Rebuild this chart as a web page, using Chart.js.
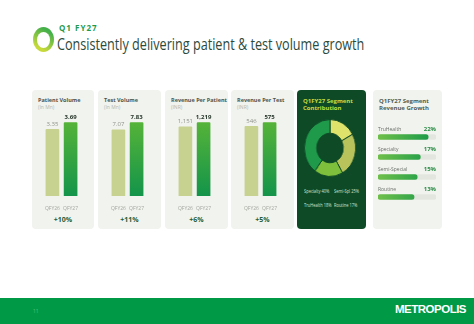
<!DOCTYPE html>
<html lang="en">
<head>
<meta charset="UTF-8">
<title>Q1 FY27 - Volume Growth</title>
<script src="https://cdn.jsdelivr.net/npm/chart.js"></script>
<style>
  body { margin: 0; width: 474px; height: 324px; background: #fff; position: relative; overflow: hidden; font-family: "Open Sans", sans-serif; }
  .abs { position: absolute; }
  .card { position: absolute; top: 90px; height: 139px; background: #f1f3ee; border-radius: 4px; }
  .card canvas { position: absolute; }
  .kpi-title { position: absolute; left: 6px; top: 7px; font-size: 5.5px; font-weight: bold; color: #4d554d; line-height: 6px; white-space: nowrap; }
  .kpi-unit { position: absolute; left: 6px; top: 14px; font-size: 5px; color: #b3b8ae; line-height: 6px; }
  .kpi-growth { position: absolute; left: 0; right: 0; top: 126px; text-align: center; font-size: 7px; font-weight: bold; color: #1f5e35; line-height: 8px; }
  .head2 { position: absolute; left: 6px; top: 8px; font-size: 6px; font-weight: bold; line-height: 6.5px; }
  .legend { position: absolute; font-size: 5px; color: #d3e3cc; white-space: nowrap; line-height: 6px; transform: scaleX(0.8); transform-origin: left top; }
</style>
</head>
<body>
  <!-- header -->
  <div class="abs" style="left:33px;top:27px;width:21px;height:25px;border-radius:50%;background:linear-gradient(210deg,#43b04a 20%,#c8da3a 80%);">
    <div class="abs" style="left:4px;top:4.5px;width:13px;height:16px;border-radius:50%;background:#fff;"></div>
  </div>
  <div class="abs" style="left:59px;top:24px;font-size:8px;font-weight:bold;letter-spacing:1px;color:#1f9a4b;line-height:8px;">Q1 FY27</div>
  <div id="title" class="abs" style="left:57px;top:37px;font-size:15.5px;color:#2c4a3b;line-height:14px;white-space:nowrap;transform-origin:left top;">Consistently delivering patient &amp; test volume growth</div>

  <!-- KPI cards -->
  <div class="card" style="left:32px;width:62px;"></div>
  <div class="card" style="left:98px;width:63px;"></div>
  <div class="card" style="left:165px;width:63px;"></div>
  <div class="card" style="left:231px;width:63px;"></div>

  <!-- segment contribution -->
  <div class="card" id="segCard" style="left:297px;width:69px;background:#0f4a27;">
    <div class="head2" style="color:#c6dc3e;">Q1FY27 Segment<br>Contribution</div>
    <div class="abs" style="left:4px;top:29px;width:58px;height:58px;transform:scaleX(0.9);transform-origin:29px 0;">
      <canvas id="donut" width="58" height="58"></canvas>
    </div>
  </div>

  <!-- segment growth -->
  <div class="card" id="growthCard" style="left:373px;width:69px;">
    <div class="head2" style="color:#515c52;">Q1FY27 Segment<br>Revenue Growth</div>
  </div>

  <!-- footer -->
  <div class="abs" style="left:0;top:298px;width:474px;height:26px;background:#009a47;"></div>
  <div class="abs" style="left:33px;top:308px;font-size:5px;color:#55c27a;">11</div>
  <div class="abs" style="left:395px;top:303px;font-size:11.5px;font-weight:bold;color:#fff;letter-spacing:-0.5px;font-family:'Liberation Sans',sans-serif;">METROPOLIS</div>

<script>
// ---- data ----
const periods = ['QFY26', 'QFY27'];
const kpiTitles = ['Patient Volume', 'Test Volume', 'Revenue Per Patient', 'Revenue Per Test'];
const kpiUnits = ['(In Mn)', '(In Mn)', '(INR)', '(INR)'];
const patientVolume = [3.35, 3.69];
const testVolume = [7.07, 7.83];
const revenuePerPatient = [1151, 1219];
const revenuePerTest = [546, 575];
const kpiGrowth = ['+10%', '+11%', '+6%', '+5%'];

const segLabels = ['Routine', 'Semi-Spl', 'TruHealth', 'Specialty'];
const segShare = [17, 25, 18, 40];
const segLegendOrder = ['Specialty', 'Semi-Spl', 'TruHealth', 'Routine'];

const growthLabels = ['TruHealth', 'Specialty', 'Semi-Special', 'Routine'];
const growthValues = [22, 17, 15, 13];

// ---- helpers ----
const fmt = v => (v % 1 ? v.toFixed(2) : v.toLocaleString('en-US'));

function vGradient(chart) {
    const a = chart.chartArea;
    if (!a) return '#3aa845';
    const g = chart.ctx.createLinearGradient(0, a.top, 0, a.bottom);
    g.addColorStop(0, '#62b935');
    g.addColorStop(1, '#13944a');
    return g;
}

function hGradient(chart) {
    const a = chart.chartArea;
    if (!a) return '#3aa845';
    const g = chart.ctx.createLinearGradient(a.left, 0, a.right, 0);
    g.addColorStop(0, '#6fc04a');
    g.addColorStop(1, '#109648');
    return g;
}

// labels above the two bars
const valueLabels = {
    id: 'valueLabels',
    afterDatasetsDraw(chart) {
        const ctx = chart.ctx;
        const vals = chart.data.datasets[0].data;
        chart.getDatasetMeta(0).data.forEach((bar, i) => {
            ctx.save();
            ctx.font = (i === 1 ? 'bold ' : '') + '6px "Open Sans"';
            ctx.fillStyle = i === 1 ? '#26352a' : '#8e938a';
            ctx.textAlign = 'center';
            ctx.textBaseline = 'bottom';
            ctx.fillText(fmt(vals[i]), bar.x, bar.y - 2);
            ctx.restore();
        });
    }
};

// category name + percentage above each progress bar
const rowLabels = {
    id: 'rowLabels',
    afterDatasetsDraw(chart) {
        const ctx = chart.ctx;
        const a = chart.chartArea;
        chart.getDatasetMeta(0).data.forEach((bar, i) => {
            ctx.save();
            ctx.textBaseline = 'middle';
            ctx.font = '5px "Open Sans"';
            ctx.fillStyle = '#6b706a';
            ctx.textAlign = 'left';
            ctx.fillText(chart.data.labels[i], a.left, bar.y - 7.5);
            ctx.font = 'bold 6px "Open Sans"';
            ctx.fillStyle = '#2a8c46';
            ctx.textAlign = 'right';
            ctx.fillText(growthValues[i] + '%', a.right, bar.y - 7.5);
            ctx.restore();
        });
    }
};

// ---- title: squeeze to the slide width ----
const titleEl = document.getElementById('title');
titleEl.style.transform = 'scaleX(' + (307 / titleEl.offsetWidth) + ')';

// ---- KPI bar cards ----
const kpiSeries = [patientVolume, testVolume, revenuePerPatient, revenuePerTest];
const cards = document.querySelectorAll('.card');

kpiSeries.forEach((vals, k) => {
    const card = cards[k];
    card.innerHTML =
        '<div class="kpi-title">' + kpiTitles[k] + '</div>' +
        '<div class="kpi-unit">' + kpiUnits[k] + '</div>' +
        '<div class="kpi-growth">' + kpiGrowth[k] + '</div>';
    const cv = document.createElement('canvas');
    cv.width = 37;
    cv.height = 106;
    cv.style.left = '11px';
    cv.style.top = '18px';
    card.appendChild(cv);

    new Chart(cv, {
        type: 'bar',
        data: {
            labels: periods,
            datasets: [{
                data: vals,
                backgroundColor: c => (c.dataIndex === 0 ? '#c7d190' : vGradient(c.chart)),
                barThickness: 13,
                borderRadius: 1
            }]
        },
        options: {
            responsive: false,
            animation: false,
            events: [],
            layout: { padding: 0 },
            plugins: { legend: { display: false }, tooltip: { enabled: false } },
            scales: {
                x: {
                    grid: { display: false },
                    border: { display: false },
                    ticks: { font: { size: 5, family: 'Open Sans' }, color: '#a4a89f', padding: 2, maxRotation: 0, autoSkip: false }
                },
                y: { display: false, min: 0, max: Math.max(...vals) * 1.2 }
            }
        },
        plugins: [valueLabels]
    });
});

// ---- segment contribution doughnut ----
new Chart(document.getElementById('donut'), {
    type: 'doughnut',
    data: {
        labels: segLabels,
        datasets: [{
            data: segShare,
            backgroundColor: ['#dfe36c', '#b8c35c', '#7ec03c', '#1f9a4a'],
            borderColor: '#0f4a27',
            borderWidth: 1
        }]
    },
    options: {
        responsive: false,
        animation: false,
        events: [],
        cutout: '52%',
        layout: { padding: 0 },
        plugins: { legend: { display: false }, tooltip: { enabled: false } }
    }
});

const segCard = document.getElementById('segCard');
segLegendOrder.forEach((name, i) => {
    const d = document.createElement('div');
    d.className = 'legend';
    d.style.left = (i % 2 === 0 ? 7 : 37) + 'px';
    d.style.top = (i < 2 ? 98 : 112) + 'px';
    d.textContent = name + ' ' + segShare[segLabels.indexOf(name)] + '%';
    segCard.appendChild(d);
});

// ---- segment revenue growth progress bars ----
const growthCard = document.getElementById('growthCard');
const gcv = document.createElement('canvas');
gcv.width = 58;
gcv.height = 92;
gcv.style.left = '5px';
gcv.style.top = '25px';
growthCard.appendChild(gcv);

const axisMin = -10, axisMax = 27;
new Chart(gcv, {
    type: 'bar',
    data: {
        labels: growthLabels,
        datasets: [
            {
                data: growthValues,
                base: axisMin,
                grouped: false,
                barThickness: 5,
                borderRadius: 3,
                borderSkipped: false,
                backgroundColor: c => hGradient(c.chart)
            },
            {
                data: growthLabels.map(() => axisMax),
                base: axisMin,
                grouped: false,
                barThickness: 5,
                borderRadius: 3,
                borderSkipped: false,
                backgroundColor: '#e3e6df'
            }
        ]
    },
    options: {
        indexAxis: 'y',
        responsive: false,
        animation: false,
        events: [],
        layout: { padding: { top: 12 } },
        plugins: { legend: { display: false }, tooltip: { enabled: false } },
        scales: {
            x: { display: false, min: axisMin, max: axisMax },
            y: { display: false }
        }
    },
    plugins: [rowLabels]
});
</script>
</body>
</html>
